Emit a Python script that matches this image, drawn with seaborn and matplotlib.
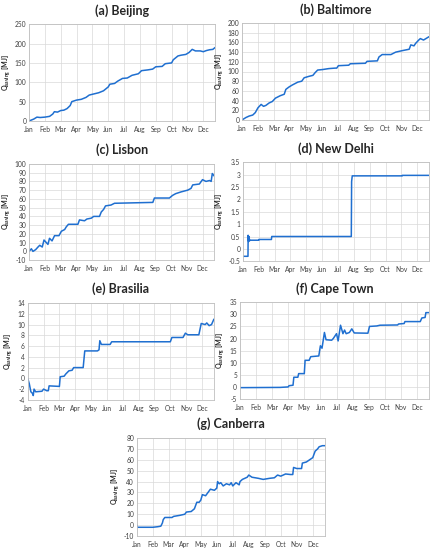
import seaborn as sns
import pandas as pd
import matplotlib.pyplot as plt

months = ['Jan', 'Feb', 'Mar', 'Apr', 'May', 'Jun', 'Jul', 'Aug', 'Sep', 'Oct', 'Nov', 'Dec']

# x in months since Jan 1, y in MJ
beijing_x = [0, 0.3, 0.5, 0.7, 1.0, 1.3, 1.5, 1.6, 1.8, 2.0, 2.2, 2.4, 2.6, 2.7, 3.0, 3.3, 3.6, 3.8, 4.1, 4.4,
             4.7, 5.0, 5.1, 5.4, 5.6, 5.9, 6.2, 6.5, 6.9, 7.1, 7.5, 7.8, 8.0, 8.4, 8.6, 9.0, 9.1, 9.4, 9.6, 9.9,
             10.1, 10.3, 10.5, 10.8, 11.0, 11.2, 11.4, 11.6, 11.75]
beijing_y = [0, 5, 10, 9, 10, 12, 18, 24, 23, 27, 28, 32, 40, 50, 54, 56, 61, 67, 70, 73,
             78, 88, 95, 97, 103, 110, 111, 118, 122, 130, 132, 134, 140, 141, 148, 150, 158, 168, 170, 172,
             177, 185, 181, 181, 179, 182, 184, 185, 190]

baltimore_x = [0, 0.25, 0.45, 0.67, 0.83, 1.0, 1.2, 1.35, 1.5, 1.7, 1.9, 2.1, 2.4, 2.65, 2.75, 2.95, 3.15, 3.5,
               3.75, 3.9, 4.2, 4.45, 4.6, 4.75, 5.05, 5.45, 5.85, 5.95, 6.05, 6.7, 6.8, 7.75, 7.85, 8.5, 8.6,
               8.8, 9.35, 9.65, 10.05, 10.5, 10.6, 10.8, 10.9, 11.1, 11.2, 11.4, 11.5, 11.75]
baltimore_y = [0, 5, 8, 10, 15, 25, 32, 28, 30, 35, 38, 45, 50, 53, 63, 68, 72, 78,
               80, 87, 90, 92, 98, 103, 104, 106, 107, 107, 112, 113, 116, 117, 121, 122, 130,
               135, 135, 140, 143, 146, 155, 153, 158, 165, 168, 165, 167, 172]

lisbon_x = [0, 0.15, 0.25, 0.42, 0.57, 0.68, 0.84, 0.95, 1.1, 1.2, 1.3, 1.46, 1.62, 1.9, 2.05, 2.26, 2.36, 2.5,
            3.1, 3.2, 3.52, 3.67, 3.95, 4.1, 4.47, 4.58, 4.73, 4.85, 5.2, 5.42, 7.85, 7.95, 8.9, 9.1, 9.3,
            9.64, 10.06, 10.27, 10.38, 10.8, 11.0, 11.22, 11.45, 11.55, 11.62, 11.75]
lisbon_y = [0, 3, 0, 2, 5, 7, 5, 13, 10, 8, 15, 12, 18, 18, 23, 25, 28, 31,
            31, 36, 35, 37, 38, 40, 40, 45, 48, 52, 53, 55, 56, 61, 61, 64, 66,
            68, 70, 72, 76, 77, 82, 80, 81, 80, 89, 86]

delhi_x = [0, 0.32, 0.33, 0.36, 0.38, 0.42, 0.45, 1.0, 1.01, 1.8, 1.82, 6.84, 6.86, 6.9, 10.05, 10.06, 11.75]
delhi_y = [-0.3, -0.3, 0.55, 0.3, 0.5, 0.33, 0.35, 0.35, 0.38, 0.38, 0.5, 0.5, 2.72, 2.95, 2.95, 2.97, 2.97]

brasilia_x = [0, 0.1, 0.2, 0.3, 0.35, 0.4, 0.5, 0.9, 1.0, 1.2, 1.3, 1.35, 2.0, 2.05, 2.3, 2.4, 2.6, 2.8, 2.9,
              3.5, 3.6, 4.4, 4.5, 4.55, 4.65, 5.2, 5.3, 9.0, 9.1, 9.8, 9.95, 10.1, 10.8, 10.95, 11.2,
              11.3, 11.45, 11.6, 11.75]
brasilia_y = [0, -1, -2.5, -2.8, -3.2, -2.0, -2.5, -2.4, -2.0, -2.3, -2.3, -1.4, -1.5, 0.3, 0.4, 0.8, 1.4, 1.5, 2.0,
              2.0, 5.1, 5.1, 5.3, 7.0, 6.3, 6.3, 6.8, 6.8, 7.6, 7.6, 8.4, 8.1, 8.1, 10.2, 10.0,
              10.3, 9.8, 10.0, 11.0]

capetown_x = [0, 2.5, 3.0, 3.05, 3.3, 3.35, 3.6, 3.65, 4.0, 4.05, 4.3, 4.4, 4.9, 5.0, 5.1, 5.25, 5.35, 5.7,
              5.8, 6.0, 6.1, 6.25, 6.4, 6.5, 6.6, 6.8, 6.95, 7.1, 7.95, 8.05, 8.5, 8.7, 9.8, 9.85, 10.2,
              10.25, 11.2, 11.3, 11.5, 11.55, 11.75]
capetown_y = [-0.3, -0.2, 0, 0.5, 0.7, 4, 4, 5.5, 5.5, 11, 11, 12.5, 12.8, 17, 16, 22.5, 19.5, 19.3,
              20, 22, 19, 25.5, 22, 23.5, 22, 22.5, 24, 22.3, 22.2, 25, 25.2, 25.5, 25.6, 26, 26.2,
              27, 27, 28.5, 28.7, 30.7, 30.7]

canberra_x = [0, 0.05, 1.0, 1.3, 1.5, 1.6, 1.65, 1.75, 2.2, 2.3, 2.7, 3.0, 3.1, 3.4, 3.6, 3.75, 3.9, 4.0,
              4.1, 4.3, 4.4, 4.6, 4.85, 5.0, 5.05, 5.15, 5.25, 5.4, 5.6, 5.8, 5.9, 6.0, 6.2, 6.4, 6.45,
              6.6, 6.9, 7.0, 7.2, 7.6, 7.9, 8.3, 8.6, 8.8, 9.0, 9.3, 9.6, 9.75, 9.8, 10.0, 10.3, 10.35,
              10.6, 10.8, 11.0, 11.15, 11.3, 11.4, 11.6, 11.78]
canberra_y = [0, -2, -2, -1.5, -1, 2, 5, 7, 7, 8, 9, 10, 12, 12.5, 15, 21, 21, 23,
              28, 27, 29, 33, 32, 34, 40, 38, 39, 36, 38, 37, 39, 36, 39, 37, 40,
              42, 44, 46, 44, 43, 42, 43, 43.5, 46, 45, 47, 46.5, 46.5, 53, 52, 52, 57,
              58, 60, 62, 68, 70, 72, 73, 73]

panels = [
    ('(a) Beijing', beijing_x, beijing_y, (0, 250), 50, [0.067, 0.780, 0.430, 0.176]),
    ('(b) Baltimore', baltimore_x, baltimore_y, (0, 200), 20, [0.559, 0.782, 0.432, 0.176]),
    ('(c) Lisbon', lisbon_x, lisbon_y, (-10, 100), 10, [0.067, 0.527, 0.428, 0.175]),
    ('(d) New Delhi', delhi_x, delhi_y, (-0.5, 3.5), 0.5, [0.561, 0.525, 0.430, 0.180]),
    ('(e) Brasilia', brasilia_x, brasilia_y, (-4, 14), 2, [0.064, 0.273, 0.430, 0.176]),
    ('(f) Cape Town', capetown_x, capetown_y, (-5, 35), 5, [0.554, 0.2745, 0.437, 0.176]),
    ('(g) Canberra', canberra_x, canberra_y, (-10, 80), 10, [0.316, 0.0255, 0.434, 0.178]),
]

sns.set_style('whitegrid')
plt.rcParams['font.family'] = ['Lato', 'DejaVu Sans']

fig = plt.figure(figsize=(4.33, 5.5), dpi=100)

for title, xs, ys, ylim, ystep, pos in panels:
    ax = fig.add_axes(pos)
    df = pd.DataFrame({'month': xs, 'q': ys})
    sns.lineplot(data=df, x='month', y='q', ax=ax, sort=False, estimator=None,
                 color='#1f6fd0', linewidth=1.1)
    ax.set_xlim(0, 11.75)
    ax.set_ylim(*ylim)
    ax.set_xticks(range(12))
    ax.set_xticklabels(months)
    n = int(round((ylim[1] - ylim[0]) / ystep))
    ticks = [ylim[0] + i * ystep for i in range(n + 1)]
    ax.set_yticks(ticks)
    ax.set_yticklabels(['%g' % t for t in ticks])
    ax.tick_params(labelsize=4.8, colors='#404040', length=0)
    ax.tick_params(axis='x', pad=3.5)
    ax.tick_params(axis='y', pad=2)
    ax.grid(color='#d9d9d9', linewidth=0.5)
    for s in ax.spines.values():
        s.set_color('#bfbfbf')
        s.set_linewidth(0.6)
    ax.set_xlabel('')
    ax.set_ylabel(r'Q$_{\mathregular{saving}}$ [MJ]', fontsize=5, fontweight='bold', labelpad=1.5)
    ax.set_title(title, fontsize=9, fontweight='bold', pad=7)

fig.savefig('out.png', dpi=100)
